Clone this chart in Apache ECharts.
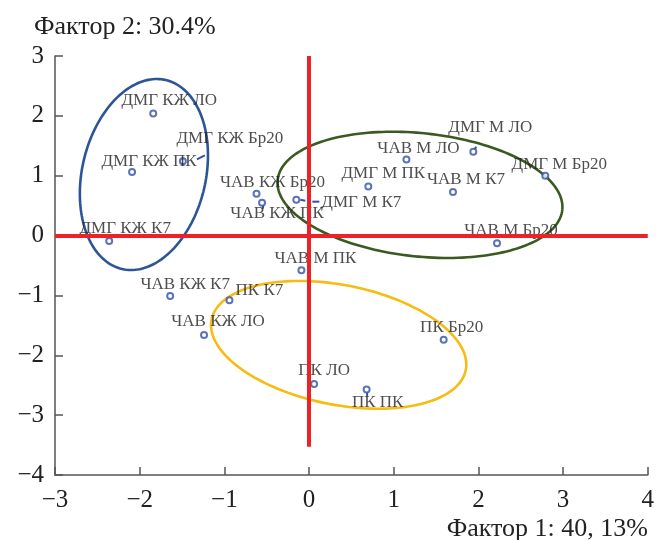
<!DOCTYPE html>
<html>
<head>
<meta charset="utf-8">
<script src="https://cdn.jsdelivr.net/npm/echarts@6/dist/echarts.min.js"></script>
<style>html,body{margin:0;padding:0;background:#fff;}#c{width:657px;height:540px;}</style>
</head>
<body>
<div id="c"></div>
<script>
// ---- data ----
const names = ['ДМГ КЖ ЛО','ДМГ КЖ Бр20','ДМГ КЖ ПК','ДМГ КЖ К7','ЧАВ КЖ Бр20','ЧАВ КЖ ПК','ДМГ М К7',
  'ЧАВ М ЛО','ДМГ М ЛО','ДМГ М Бр20','ДМГ М ПК','ЧАВ М К7','ЧАВ М Бр20','ЧАВ М ПК',
  'ЧАВ КЖ К7','ПК К7','ЧАВ КЖ ЛО','ПК Бр20','ПК ЛО','ПК ПК'];
const factor1 = [-1.84,-1.49,-2.09,-2.36,-0.62,-0.555,-0.15, 1.15,1.94,2.79,0.70,1.70,2.22,-0.09, -1.64,-0.94,-1.24,1.59,0.06,0.68];
const factor2 = [ 2.04, 1.24, 1.06,-0.09, 0.70, 0.55, 0.60, 1.27,1.40,1.00,0.82,0.73,-0.13,-0.58, -1.01,-1.08,-1.66,-1.74,-2.48,-2.57];
const xTickLabels = ['−3','−2','−1','0','1','2','3','4'];
const yTickLabels = ['−4','−3','−2','−1','0','1','2','3'];
const xTitle = 'Фактор 1: 40, 13%';
const yTitle = 'Фактор 2: 30.4%';
// group ellipses: centre (factor1, factor2), semi-axes in axis units, tilt in degrees
const ellipseCX = [-1.95, 1.31, 0.35];
const ellipseCY = [ 1.02, 0.68, -1.825];
const ellipseRX = [0.73, 1.69, 1.53];
const ellipseRY = [1.62, 1.03, 1.0];
const ellipseTilt = [-13, -6, -11.2];
// zero lines
const vLineFrom = -3.53, vLineTo = 3;

// ---- layout (label offsets in px, relative to point) ----
const labelOffsets = {
 'ДМГ КЖ ЛО':[16,-13],'ДМГ КЖ Бр20':[47,-23],'ДМГ КЖ ПК':[17,-11],'ДМГ КЖ К7':[16,-12],
 'ЧАВ КЖ Бр20':[16,-11],'ЧАВ КЖ ПК':[15,11],'ДМГ М К7':[65,3],'ЧАВ М ЛО':[12,-11],
 'ДМГ М ЛО':[17,-24],'ДМГ М Бр20':[14,-11],'ДМГ М ПК':[15,-13],'ЧАВ М К7':[13,-12],
 'ЧАВ М Бр20':[14,-13],'ЧАВ М ПК':[14,-12],'ЧАВ КЖ К7':[15,-11],'ПК К7':[30,-10],
 'ЧАВ КЖ ЛО':[14,-13],'ПК Бр20':[8,-12],'ПК ЛО':[10,-13],'ПК ПК':[11,13]
};
// short label leader dashes, px offsets from the point
const leaderDashes = {
 'ДМГ КЖ Бр20':[[14,-2,22,-6]],
 'ДМГ М К7':[[4,0,9,1],[16,2,23,2]],
 'ДМГ М ЛО':[[1,-2,3,-5]],
 'ПК ПК':[[0.5,3,0.5,7]],
 'ЧАВ КЖ ПК':[[1,2,1,6]]
};
const ellipseColors = ['#2c5597','#3b5a22','#f7bb12'];
const FONT = "'Liberation Serif','Times New Roman',serif";

const chart = echarts.init(document.getElementById('c'), null, {renderer:'canvas'});

const pointData = names.map((n,i)=>({
  value:[factor1[i], factor2[i]], name:n,
  label:{offset: labelOffsets[n]}
}));
const ellData = ellipseCX.map((c,i)=>[c, ellipseCY[i], ellipseRX[i], ellipseRY[i], ellipseTilt[i], i]);
const leaderData = names.map((n,i)=>[factor1[i], factor2[i], i]).filter(d=>leaderDashes[names[d[2]]]);

const axisCommon = {
  axisLine:{show:true, onZero:false, lineStyle:{color:'#555', width:1.5}},
  axisTick:{show:true, inside:true, length:8, lineStyle:{color:'#555', width:1.5}},
  splitLine:{show:false},
  axisLabel:{fontFamily:FONT, fontSize:25, color:'#222'}
};

chart.setOption({
  animation:false,
  backgroundColor:'#fff',
  grid:{left:55, right:9, top:56, bottom:65},
  title:[
    {text:yTitle, left:29, top:9, textStyle:{fontFamily:FONT, fontSize:26, fontWeight:'normal', color:'#222'}},
    {text:xTitle, right:4, bottom:-7, textStyle:{fontFamily:FONT, fontSize:26, fontWeight:'normal', color:'#222'}}
  ],
  xAxis:Object.assign({}, axisCommon, {type:'value', min:-3, max:4, interval:1,
     axisLabel:Object.assign({}, axisCommon.axisLabel, {margin:13, formatter:(v)=>xTickLabels[Math.round(v)+3]})}),
  yAxis:Object.assign({}, axisCommon, {type:'value', min:-4, max:3, interval:1,
     axisLabel:Object.assign({}, axisCommon.axisLabel, {margin:11, formatter:(v)=>yTickLabels[Math.round(v)+4]})}),
  series:[
    {
      type:'custom', z:1, silent:true,
      data:ellData,
      encode:{x:0, y:1},
      renderItem:function(params, api){
        const c = api.coord([api.value(0), api.value(1)]);
        const sz = api.size([api.value(2), api.value(3)]);
        const th = api.value(4)*Math.PI/180;
        const idx = api.value(5);
        const pts = [];
        for(let k=0;k<=180;k++){
          const t = k/180*2*Math.PI;
          const ex = sz[0]*Math.cos(t), ey = sz[1]*Math.sin(t);
          pts.push([c[0] + ex*Math.cos(th) - ey*Math.sin(th), c[1] - (ex*Math.sin(th) + ey*Math.cos(th))]);
        }
        return {type:'polyline', shape:{points:pts}, style:{stroke:ellipseColors[idx], lineWidth:2.6, fill:null}};
      }
    },
    {
      type:'scatter', z:2, data:[], silent:true,
      markLine:{
        silent:true, symbol:['none','none'], animation:false,
        label:{show:false},
        lineStyle:{color:'#ee2226', width:4, type:'solid'},
        data:[
          [{coord:[-3,0]},{coord:[4,0]}],
          [{coord:[0,vLineFrom]},{coord:[0,vLineTo]}]
        ]
      }
    },
    {
      type:'custom', z:3, silent:true,
      data:leaderData,
      encode:{x:0, y:1},
      renderItem:function(params, api){
        const c = api.coord([api.value(0), api.value(1)]);
        const segs = leaderDashes[names[api.value(2)]];
        return {type:'group', children: segs.map(s=>({
          type:'line', shape:{x1:c[0]+s[0], y1:c[1]+s[1], x2:c[0]+s[2], y2:c[1]+s[3]},
          style:{stroke:'#3350a8', lineWidth:2}
        }))};
      }
    },
    {
      type:'scatter', z:4,
      symbol:'circle', symbolSize:6,
      itemStyle:{color:'#fff', borderColor:'#3350a8', borderWidth:2},
      label:{show:true, position:'inside', align:'center', verticalAlign:'middle',
        formatter:'{b}', fontFamily:FONT, fontSize:17, color:'#222'},
      data:pointData
    }
  ]
});
</script>
</body>
</html>
